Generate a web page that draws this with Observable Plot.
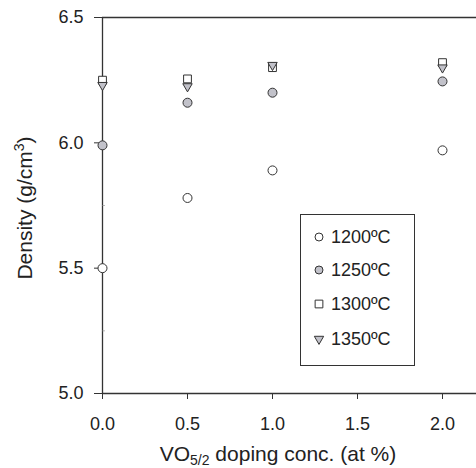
<!DOCTYPE html>
<html>
<head>
<meta charset="utf-8">
<script src="https://cdn.jsdelivr.net/npm/d3@7"></script>
<script src="https://cdn.jsdelivr.net/npm/@observablehq/plot@0.6"></script>
<style>
  html, body { margin: 0; padding: 0; background: #fff; }
  #wrap { position: relative; width: 476px; height: 468px; font-family: "Liberation Sans", Arial, sans-serif; }
  #legend { position: absolute; left: 300px; top: 214px; width: 113px; height: 150px; border: 1.5px solid #333; background: #fff; }
  .row { position: absolute; left: 11px; font-size: 18px; line-height: 18px; color: #222; display: flex; align-items: center; }
  .row svg { margin-right: 5px; }
</style>
</head>
<body>
<div id="wrap"></div>
<script>
const doping = [0, 0.5, 1.0, 2.0];
const d1200 = [5.50, 5.78, 5.89, 5.97];
const d1250 = [5.99, 6.16, 6.20, 6.245];
const d1300 = [6.25, 6.255, 6.30, 6.32];
const d1350 = [6.23, 6.225, 6.31, 6.30];
const xTicks = [0, 0.5, 1.0, 1.5, 2.0];
const yTicks = [5.0, 5.5, 6.0, 6.5];
const yMinor = [5.25, 5.75, 6.25];
const seriesNames = ["1200ºC", "1250ºC", "1300ºC", "1350ºC"];

const mk = (arr) => doping.map((x, i) => ({x, y: arr[i]}));
const grey = "#c2c2ca";
const ink = "#333";

const plot = Plot.plot({
  width: 476,
  height: 468,
  marginLeft: 102,
  marginRight: 0,
  marginTop: 17,
  marginBottom: 75,
  style: {fontFamily: "Liberation Sans, Arial, sans-serif", fontSize: "18px", color: "#222", background: "#fff", overflow: "visible"},
  x: {type: "linear", domain: [0, 2.2]},
  y: {type: "linear", domain: [5.0, 6.5]},
  marks: [
    Plot.ruleY([5.0, 6.5], {stroke: ink, strokeWidth: 1.3}),
    Plot.ruleX([0], {stroke: ink, strokeWidth: 1.3}),
    Plot.axisX({ticks: xTicks, tickFormat: d3.format(".1f"), tickSize: 6, tickPadding: 18, label: null, stroke: ink, fontSize: 18}),
    Plot.axisY({ticks: yTicks, tickFormat: d3.format(".1f"), tickSize: 8, tickPadding: 11, label: null, stroke: ink, fontSize: 18}),
    Plot.axisY({ticks: yMinor, tickFormat: () => "", tickSize: -3, label: null, stroke: "#888", strokeWidth: 0.6}),
    Plot.dot(mk(d1200), {x: "x", y: "y", r: 4.5, symbol: "circle", fill: "#fff", stroke: ink, strokeWidth: 1}),
    Plot.dot(mk(d1250), {x: "x", y: "y", r: 4.5, symbol: "circle", fill: grey, stroke: ink, strokeWidth: 1}),
    Plot.dot(mk(d1300), {x: "x", y: "y", r: 4.4, symbol: "square", fill: "#fff", stroke: ink, strokeWidth: 1}),
    Plot.dot(mk(d1350), {x: "x", y: "y", r: 3.5, symbol: "triangle", rotate: 180, fill: grey, stroke: ink, strokeWidth: 1})
  ]
});

const wrap = document.getElementById("wrap");
wrap.appendChild(plot);
const svg = d3.select(plot);
const sy = plot.scale("y");

// x axis title with subscript
const xt = svg.append("text")
  .attr("x", 278).attr("y", 461)
  .attr("text-anchor", "middle")
  .attr("font-size", 21).attr("fill", "#222");
xt.append("tspan").text("VO");
xt.append("tspan").attr("font-size", 14).attr("dy", 4).text("5/2");
xt.append("tspan").attr("dy", -4).text(" doping conc. (at %)");

// y axis title with superscript
const yc = (sy.apply(5.0) + sy.apply(6.5)) / 2 + 3;
const yt = svg.append("text")
  .attr("transform", `translate(32,${yc}) rotate(-90)`)
  .attr("text-anchor", "middle")
  .attr("font-size", 21).attr("fill", "#222");
yt.append("tspan").text("Density (g/cm");
yt.append("tspan").attr("font-size", 14).attr("dy", -8).text("3");
yt.append("tspan").attr("dy", 8).text(")");

// legend
const leg = document.createElement("div");
leg.id = "legend";
const symbolDefs = [
  {sym: d3.symbolCircle, size: Math.PI * 4 * 4, fill: "#fff", rot: 0},
  {sym: d3.symbolCircle, size: Math.PI * 4 * 4, fill: grey, rot: 0},
  {sym: d3.symbolSquare, size: 60, fill: "#fff", rot: 0},
  {sym: d3.symbolTriangle, size: 38, fill: grey, rot: 180}
];
const rowCenters = [22, 55, 89, 124];
seriesNames.forEach((name, i) => {
  const row = document.createElement("div");
  row.className = "row";
  row.style.top = (rowCenters[i] - 9) + "px";
  const s = symbolDefs[i];
  const path = d3.symbol(s.sym, s.size)();
  row.innerHTML = `<svg width="14" height="14"><path d="${path}" transform="translate(7,7) rotate(${s.rot})" fill="${s.fill}" stroke="${ink}" stroke-width="1"/></svg><span>${name}</span>`;
  leg.appendChild(row);
});
wrap.appendChild(leg);
</script>
</body>
</html>
